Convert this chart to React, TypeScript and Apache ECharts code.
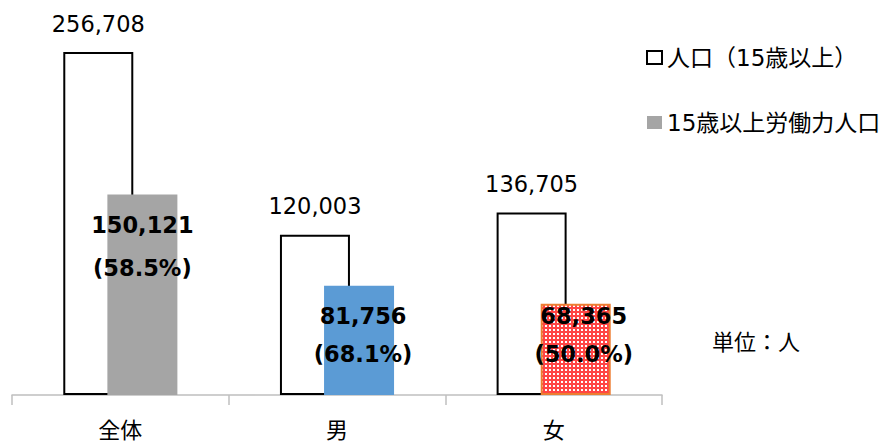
import React, { useEffect, useRef } from "react";
import * as echarts from "echarts";

const categories = ["全体", "男", "女"];
const populationValues = [256708, 120003, 136705];
const laborValues = [150121, 81756, 68365];
const laborRatios = ["58.5%", "68.1%", "50.0%"];
const seriesNames = ["人口（15歳以上）", "15歳以上労働力人口"];
const unitText = "単位：人";

const laborColors = ["#A5A5A5", "#5B9BD5", "pattern"];
const laborLabelOffsets = [
  [0, -48, 43],
  [4, -5, 38],
  [8, -14, 38],
];

function makePattern(): string {
  const c = document.createElement("canvas");
  c.width = 4;
  c.height = 4;
  const ctx = c.getContext("2d")!;
  ctx.fillStyle = "#FF4545";
  ctx.fillRect(0, 0, 4, 4);
  ctx.fillStyle = "#FFFFFF";
  ctx.fillRect(1, 1, 2, 2);
  return c.toDataURL();
}

const fmt = (v: number) => v.toLocaleString("en-US");

export default function App() {
  const ref = useRef<HTMLDivElement>(null);
  useEffect(() => {
    document.body.style.margin = "0";
    if (!ref.current) return;
    const chart = echarts.init(ref.current, null, { renderer: "svg" });
    const patternSrc = makePattern();
    const numFont = "'DejaVu Sans', 'Noto Sans CJK JP', sans-serif";
    const cjkFont = "'DejaVu Sans', 'Noto Sans CJK JP', sans-serif";
    const laborData = laborValues.map((v, i) => {
      const colorKey = laborColors[i];
      const itemStyle: any =
        colorKey === "pattern"
          ? {
              color: { image: patternSrc, repeat: "repeat" },
              borderColor: "#ED7D31",
              borderWidth: 2,
            }
          : { color: colorKey };
      const [ox, oy, lh] = laborLabelOffsets[i];
      return {
        value: v,
        itemStyle,
        label: { offset: [ox, oy], lineHeight: lh },
      };
    });
    chart.setOption({
      animation: false,
      grid: { left: 12, right: 221, top: 21, bottom: 48 },
      legend: {
        orient: "vertical",
        left: 641,
        top: 41,
        itemWidth: 15,
        itemHeight: 13,
        itemGap: 42,
        icon: "rect",
        textStyle: { fontSize: 23, fontFamily: cjkFont, color: "#000" },
        data: seriesNames,
      },
      xAxis: {
        type: "category",
        data: categories,
        axisLine: { lineStyle: { color: "#BFBFBF", width: 1.5 } },
        axisTick: { show: true, length: 10, lineStyle: { color: "#BFBFBF", width: 1.5 } },
        axisLabel: {
          fontSize: 22,
          margin: 22,
          color: "#000",
          fontFamily: "'Noto Sans CJK JP', sans-serif",
        },
      },
      yAxis: {
        type: "value",
        min: 0,
        max: 280000,
        show: false,
        splitLine: { show: false },
      },
      graphic: [
        {
          type: "text",
          left: 712,
          top: 329,
          style: {
            text: unitText,
            fontSize: 22,
            fill: "#000",
            fontFamily: "'Noto Sans CJK JP', sans-serif",
          },
        },
      ],
      series: [
        {
          name: seriesNames[0],
          type: "bar",
          data: populationValues,
          barWidth: 70,
          barGap: "-37%",
          itemStyle: { color: "#FFFFFF", borderColor: "#000000", borderWidth: 2 },
          label: {
            show: true,
            position: "top",
            distance: 17,
            fontSize: 22.5,
            color: "#000",
            fontFamily: numFont,
            formatter: (p: any) => fmt(p.value),
          },
        },
        {
          name: seriesNames[1],
          type: "bar",
          data: laborData,
          barWidth: 70,
          barGap: "-37%",
          itemStyle: { color: "#A5A5A5" },
          label: {
            show: true,
            position: "inside",
            fontSize: 22.5,
            fontWeight: "bold",
            color: "#000",
            fontFamily: numFont,
            formatter: (p: any) => `${fmt(p.value)}\n(${laborRatios[p.dataIndex]})`,
          },
        },
      ],
    });
    return () => chart.dispose();
  }, []);
  return <div ref={ref} style={{ width: 883, height: 443 }} />;
}
